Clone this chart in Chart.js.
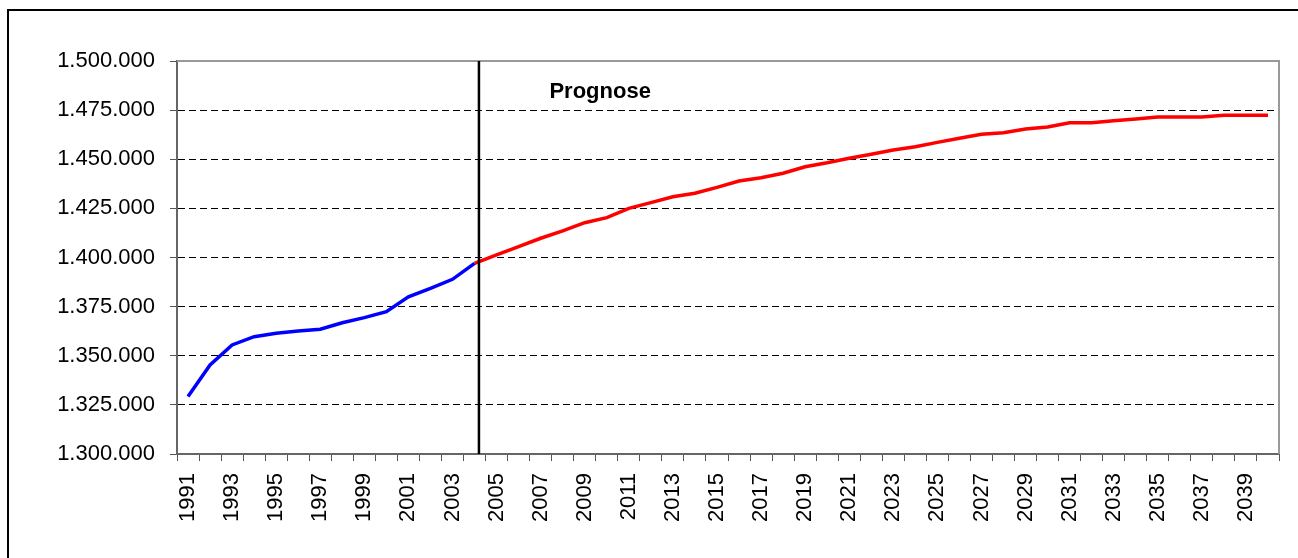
<!DOCTYPE html>
<html>
<head>
<meta charset="utf-8">
<script src="https://cdn.jsdelivr.net/npm/chart.js@4.4.1/dist/chart.umd.min.js"></script>
<style>
  html, body { margin: 0; padding: 0; background: #fff; }
  canvas { display: block; }
</style>
</head>
<body>
<canvas id="chart" width="1298" height="558"></canvas>
<script>
const years = [];
for (let y = 1991; y <= 2040; y++) years.push(String(y));

// Einwohner bis 2004 (Ist)
const observed = [1329200, 1345300, 1355500, 1359700, 1361400, 1362600, 1363500,
  1366800, 1369400, 1372400, 1380000, 1384300, 1388900, 1397000];

// Prognose 2004 - 2040
const forecast = [1397000, 1401300, 1405500, 1409800, 1413500, 1417700, 1420300,
  1425000, 1427900, 1430900, 1432700, 1435700, 1438900, 1440600, 1442900, 1446200,
  1448200, 1450500, 1452500, 1454700, 1456400, 1458600, 1460700, 1462700, 1463500,
  1465400, 1466400, 1468600, 1468600, 1469600, 1470500, 1471500, 1471500, 1471500,
  1472400, 1472400, 1472400];

const yTicks = { min: 1300000, max: 1500000, step: 25000 };
const forecastStart = years.indexOf("2004");
const markerPos = forecastStart + 0.2;
const noteText = "Prognose";
const notePos = { x: 18.7, y: 1484200 };

const FONT = "'Liberation Sans', Arial, sans-serif";

function fmt(v) {
  return String(v).replace(/\B(?=(\d{3})+(?!\d))/g, ".");
}

const overlay = {
  id: "overlay",
  beforeDraw(chart) {
    const ctx = chart.ctx;
    ctx.save();
    ctx.strokeStyle = "#000";
    ctx.lineWidth = 2;
    ctx.strokeRect(8, 10, 1400, 700);
    ctx.restore();
  },
  afterDatasetsDraw(chart) {
    const { ctx, chartArea: a, scales: { x, y } } = chart;
    ctx.save();
    // Rahmen oben / rechts
    ctx.strokeStyle = "#999";
    ctx.lineWidth = 2;
    ctx.beginPath();
    ctx.moveTo(a.left, a.top);
    ctx.lineTo(a.right, a.top);
    ctx.lineTo(a.right, a.bottom);
    ctx.stroke();
    // Trennlinie Prognose
    const px = x.getPixelForValue(markerPos);
    ctx.strokeStyle = "#000";
    ctx.lineWidth = 2.5;
    ctx.beginPath();
    ctx.moveTo(px, a.top);
    ctx.lineTo(px, a.bottom);
    ctx.stroke();
    // Beschriftung
    ctx.fillStyle = "#000";
    ctx.font = "bold 22px " + FONT;
    ctx.textAlign = "center";
    ctx.textBaseline = "middle";
    ctx.fillText(noteText, x.getPixelForValue(notePos.x), y.getPixelForValue(notePos.y));
    ctx.restore();
  }
};

new Chart(document.getElementById("chart"), {
  type: "line",
  data: {
    labels: years,
    datasets: [{
      data: observed,
      borderColor: "#0000ff",
      borderWidth: 3.5,
      pointRadius: 0,
      tension: 0
    }, {
      data: Array(forecastStart).fill(null).concat(forecast),
      borderColor: "#ff0000",
      borderWidth: 3.5,
      pointRadius: 0,
      tension: 0
    }]
  },
  options: {
    responsive: false,
    animation: false,
    layout: { padding: { top: 61, right: 19, left: 0, bottom: 0 } },
    plugins: { legend: { display: false }, tooltip: { enabled: false } },
    scales: {
      x: {
        offset: true,
        afterFit: s => { s.height = 104; s.paddingLeft = 0; s.paddingRight = 0; },
        grid: {
          offset: true,
          drawOnChartArea: false,
          drawTicks: true,
          tickLength: 7,
          tickColor: "#555",
          tickWidth: 1
        },
        border: { display: true, color: "#666", width: 2 },
        ticks: {
          autoSkip: false,
          maxRotation: 90,
          minRotation: 90,
          padding: 12,
          color: "#000",
          font: { family: FONT, size: 22 },
          callback: (v, i) => i % 2 === 0 ? years[i] : ""
        }
      },
      y: {
        min: yTicks.min,
        max: yTicks.max,
        afterFit: s => { s.width = 177; s.paddingTop = 0; s.paddingBottom = 0; },
        grid: {
          color: c => (c.tick && (c.tick.value === yTicks.min || c.tick.value === yTicks.max)) ? "rgba(0,0,0,0)" : "#000",
          lineWidth: 1,
          tickLength: 7,
          tickColor: "#555",
          tickWidth: 1,
          tickBorderDash: []
        },
        border: { display: true, color: "#666", width: 2, dash: [7, 4] },
        ticks: {
          stepSize: yTicks.step,
          padding: 15,
          color: "#000",
          font: { family: FONT, size: 22 },
          callback: v => fmt(v)
        }
      }
    }
  },
  plugins: [overlay]
});
</script>
</body>
</html>
